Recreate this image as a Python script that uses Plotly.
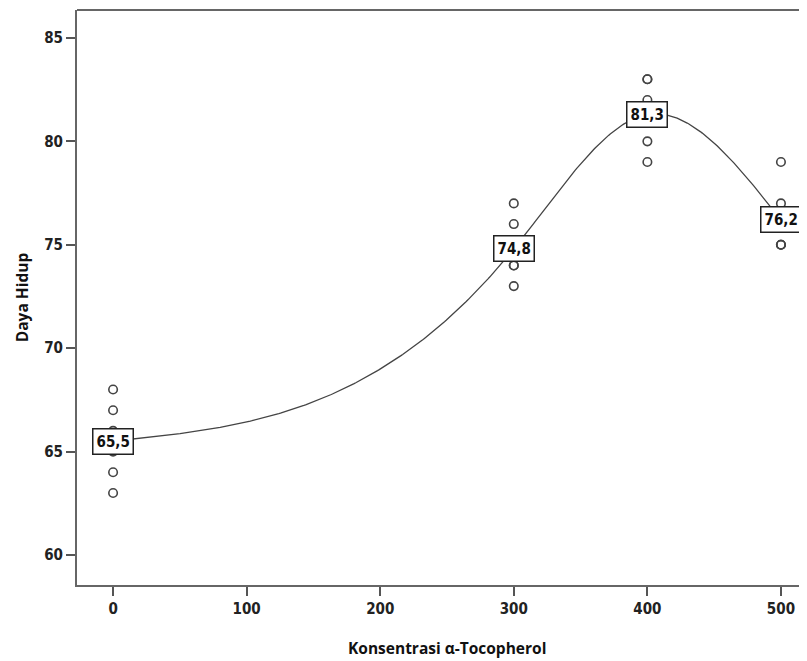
import numpy as np
import plotly.graph_objects as go

conc = [0, 300, 400, 500]
obs_x = [0]*6 + [300]*5 + [400]*6 + [500]*5
obs_y = [63, 64, 65, 66, 67, 68,
         73, 74, 74, 76, 77,
         79, 80, 81, 82, 83, 83,
         75, 75, 75, 77, 79]
means = [65.5, 74.8, 81.3, 76.2]
mean_labels = ["65,5", "74,8", "81,3", "76,2"]
xticks = [0, 100, 200, 300, 400, 500]
yticks = [60, 65, 70, 75, 80, 85]


def natural_spline(xs, ys, n=400):
    # interpolation line through the group means (natural cubic spline)
    xs = np.asarray(xs, float)
    ys = np.asarray(ys, float)
    k = len(xs)
    h = np.diff(xs)
    A = np.zeros((k, k))
    b = np.zeros(k)
    A[0, 0] = 1
    A[-1, -1] = 1
    for i in range(1, k - 1):
        A[i, i - 1] = h[i - 1]
        A[i, i] = 2 * (h[i - 1] + h[i])
        A[i, i + 1] = h[i]
        b[i] = 6 * ((ys[i + 1] - ys[i]) / h[i] - (ys[i] - ys[i - 1]) / h[i - 1])
    M = np.linalg.solve(A, b)
    gx = np.linspace(xs[0], xs[-1], n)
    gy = np.empty_like(gx)
    for j, x in enumerate(gx):
        i = min(np.searchsorted(xs, x, side="right") - 1, k - 2)
        t1 = xs[i + 1] - x
        t0 = x - xs[i]
        gy[j] = (M[i] * t1**3 / (6 * h[i]) + M[i + 1] * t0**3 / (6 * h[i])
                 + (ys[i] / h[i] - M[i] * h[i] / 6) * t1
                 + (ys[i + 1] / h[i] - M[i + 1] * h[i] / 6) * t0)
    return gx, gy


cx, cy = natural_spline(conc, means)

NARROW = "DejaVu Sans Condensed, Liberation Sans Narrow, sans-serif"

fig = go.Figure()
fig.add_trace(go.Scatter(x=cx, y=cy, mode="lines",
                         line=dict(color="#444", width=1.3),
                         hoverinfo="skip", showlegend=False))
fig.add_trace(go.Scatter(x=obs_x, y=obs_y, mode="markers",
                         marker=dict(symbol="circle-open", size=8.5, color="#444",
                                     line=dict(width=1.6, color="#444")),
                         showlegend=False))
for x0, m, t in zip(conc, means, mean_labels):
    fig.add_annotation(x=x0, y=m, text="<b>" + t + "</b>", showarrow=False,
                       font=dict(family=NARROW, size=15, color="#111"),
                       bgcolor="white", bordercolor="#222", borderwidth=1.5, borderpad=3)

fig.add_shape(type="line", xref="paper", yref="paper", x0=0, x1=1, y0=1, y1=1,
              line=dict(color="#666", width=2))

fig.add_annotation(xref="paper", yref="paper", x=0.507, y=0, yshift=-63,
                   xanchor="center", yanchor="middle", showarrow=False,
                   text="<b>Konsentrasi α-Tocopherol</b>",
                   font=dict(size=15.5, family="Open Sans, sans-serif", color="#111"))

fig.update_layout(
    width=799, height=653,
    margin=dict(l=69, r=0, t=2, b=76),
    plot_bgcolor="white", paper_bgcolor="white",
    font=dict(family=NARROW, color="#222"),
)
fig.update_xaxes(range=[-27, 519.5], tickvals=xticks, ticks="outside", ticklen=9, tickwidth=1.5,
                 tickcolor="#555", showline=True, linecolor="#666", linewidth=2,
                 showgrid=False, zeroline=False,
                 tickfont=dict(size=15, family=NARROW, weight="bold", color="#222"))
fig.update_yaxes(range=[58.55, 86.35], tickvals=yticks, ticks="outside", ticklen=9, tickwidth=1.5,
                 tickcolor="#555", showline=True, linecolor="#666", linewidth=2,
                 showgrid=False, zeroline=False,
                 tickfont=dict(size=15, family=NARROW, weight="bold", color="#222"),
                 title=dict(text="<b>Daya Hidup</b>",
                            font=dict(size=15.5, family="Open Sans, sans-serif", color="#111"),
                            standoff=12))

fig.write_html("out.html")
